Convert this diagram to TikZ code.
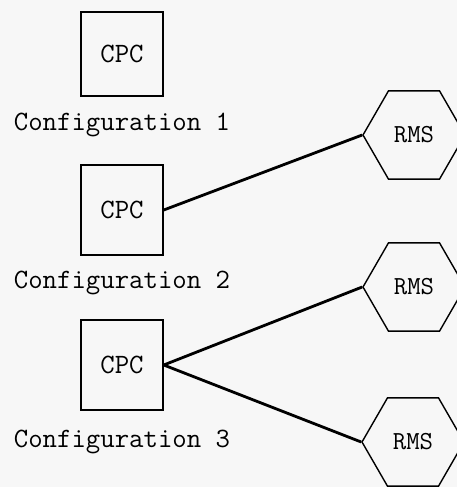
\documentclass[tikz,border=0pt]{standalone}
\usepackage{tikz}
\usetikzlibrary{shapes.geometric,positioning}

\begin{document}
\begin{tikzpicture}[x=1pt,y=-1pt]
%% page frame
   \fill[black!3] (0,0) rectangle (457,487);
   \useasboundingbox (0,0) rectangle (457,487);
%% Draw the three configurations
   \begin{scope}[node distance=71pt,on grid,
		block/.style={rectangle,draw,line width=1.5pt,minimum width=82pt,minimum height=84pt,
			inner sep=0pt,font=\ttfamily\fontsize{28}{32}\selectfont},
		hexa/.style={regular polygon,regular polygon sides=6,draw,line width=1.4pt,
			minimum size=102pt,inner sep=0pt,font=\ttfamily\fontsize{26}{30}\selectfont},
		caption/.style={font=\ttfamily\fontsize{28}{32}\selectfont},
		link/.style={line width=2.8pt}]
   \node [block] (cpc1)	at (122,54)		{CPC};
   \node [caption] (cfg1)	[below=of cpc1]		{Configuration 1};
   \node [block,minimum height=90pt] (cpc2)	at (122,210)	{CPC};
   \node [caption] (cfg2)	[below=73pt of cpc2]	{Configuration 2};
   \node [block,minimum height=90pt] (cpc3)	at (122,365)	{CPC};
   \node [caption] (cfg3)	[below=77pt of cpc3]	{Configuration 3};
   \node [hexa] (rms1)	at (414,135)	{RMS};
   \node [hexa] (rms2)	at (414,287)	{RMS};
   \node [hexa] (rms3)	at (413,442)	{RMS};
   \draw [link] (cpc2.east) -- (rms1.west);
   \draw [link] (cpc3.east) -- (rms2.west);
   \draw [link] (cpc3.east) -- (rms3.west);
   \end{scope}
\end{tikzpicture}
\end{document}
